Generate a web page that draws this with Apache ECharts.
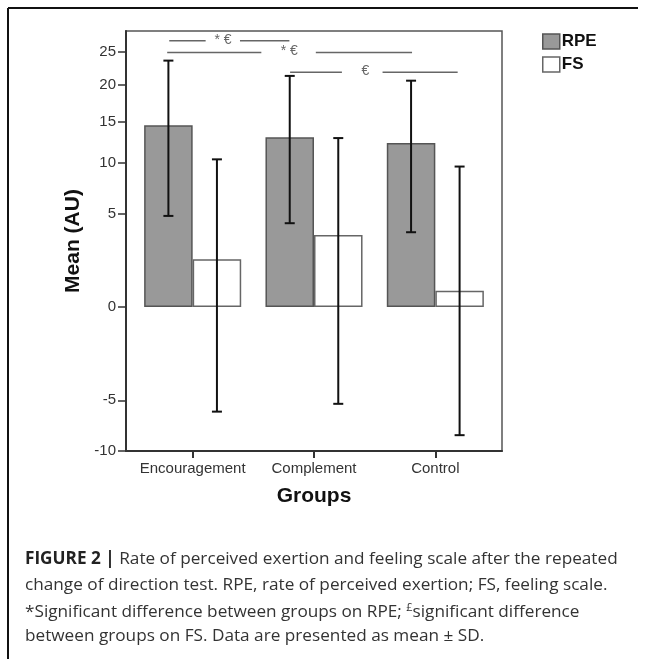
<!DOCTYPE html>
<html>
<head>
<meta charset="utf-8">
<script src="https://cdn.jsdelivr.net/npm/echarts@6/dist/echarts.min.js"></script>
<style>
html,body{margin:0;padding:0;background:#fff;}
#chart{width:657px;height:659px;}
</style>
</head>
<body>
<div id="chart"></div>
<script>
// ---- data (mean with lower / upper end of the error bar) ----
const groups = ['Encouragement', 'Complement', 'Control'];
const rpeMean = [14.5, 13.0, 12.3];
const rpeLow  = [4.8, 4.2, 3.5];
const rpeHigh = [23.6, 21.3, 20.6];
const fsMean  = [1.7, 3.3, 0.3];
const fsLow   = [-6.0, -5.3, -8.3];
const fsHigh  = [10.4, 12.9, 9.6];
const yTicks  = [-10, -5, 0, 5, 10, 15, 20, 25];
const yMin = -10, yMax = 28.3;
// significance brackets: [from (category units), to, value]
const sigLines = [[0.307, 0.607, 26.7], [0.890, 1.297, 26.7],
                  [0.290, 1.066, 24.84], [1.515, 2.308, 24.84],
                  [1.303, 1.730, 21.85], [2.065, 2.684, 21.85]];
const sigLabels = [['* €', 0.75, 26.7], ['* €', 1.296, 24.84], ['€', 1.923, 21.85]];
const captionLines = [
  '{b|FIGURE 2 |} Rate of perceived exertion and feeling scale after the repeated',
  'change of direction test. RPE, rate of perceived exertion; FS, feeling scale.',
  '*Significant difference between groups on RPE; {sup|£}significant difference',
  'between groups on FS. Data are presented as mean ± SD.'
];

// SPSS-style power scale for the value axis
const P = 0.625;
const T = v => Math.sign(v) * Math.pow(Math.abs(v), P);
const inv = t => Math.sign(t) * Math.pow(Math.abs(t), 1 / P);

const FONT = '"Liberation Sans", Arial, sans-serif';
const CAP_FONT = '"Open Sans", "Liberation Sans", sans-serif';
const chart = echarts.init(document.getElementById('chart'), null, {renderer: 'canvas'});

const gridLeft = 126, gridTop = 31, gridW = 376, gridH = 420;
const innerLeft = 132, innerW = 364;

const errData = [];
groups.forEach((g, i) => {
  errData.push([i, T(rpeLow[i]), T(rpeHigh[i]), -1]);
  errData.push([i, T(fsLow[i]), T(fsHigh[i]), 1]);
});

const option = {
  animation: false,
  backgroundColor: '#fff',
  textStyle: {fontFamily: FONT},
  grid: [
    {left: gridLeft, top: gridTop, width: gridW, height: gridH, show: true, borderColor: '#555', borderWidth: 1.5, backgroundColor: 'transparent'},
    {left: innerLeft, top: gridTop, width: innerW, height: gridH}
  ],
  legend: {
    left: 542, top: 33, orient: 'vertical', itemWidth: 17, itemHeight: 15, itemGap: 6,
    icon: 'rect', padding: 0,
    textStyle: {fontFamily: FONT, fontSize: 17, fontWeight: 'bold', color: '#111', padding: [0, 0, 0, -3]},
    data: [
      {name: 'RPE', itemStyle: {color: '#999', borderColor: '#555', borderWidth: 1.5}},
      {name: 'FS', itemStyle: {color: '#fff', borderColor: '#666', borderWidth: 1.5}}
    ]
  },
  xAxis: [
    {gridIndex: 0, type: 'value', min: 0, max: 1, axisLine: {show: true, onZero: false, lineStyle: {color: '#333', width: 2}},
     axisTick: {show: false}, axisLabel: {show: false}, splitLine: {show: false}},
    {gridIndex: 1, type: 'category', data: groups, boundaryGap: true,
     axisLine: {show: false, onZero: false}, axisTick: {show: true, alignWithLabel: true, length: 7, lineStyle: {color: '#333', width: 2}},
     axisLabel: {interval: 0, fontFamily: FONT, fontSize: 15, color: '#333', margin: 10},
     name: 'Groups', nameLocation: 'middle', nameGap: 35,
     nameTextStyle: {fontFamily: FONT, fontSize: 21, fontWeight: 'bold', color: '#111'}},
    {gridIndex: 1, type: 'value', min: 0, max: 3, show: false, axisLine: {onZero: false}}
  ],
  yAxis: [
    {gridIndex: 0, type: 'value', min: T(yMin), max: T(yMax),
     axisLine: {show: true, onZero: false, lineStyle: {color: '#333', width: 2}},
     axisTick: {show: true, length: 8, customValues: yTicks.map(T), lineStyle: {color: '#333', width: 1.5}},
     axisLabel: {customValues: yTicks.map(T), formatter: v => String(Math.round(inv(v))), fontFamily: FONT, fontSize: 15, color: '#333', margin: 10},
     splitLine: {show: false},
     name: 'Mean (AU)', nameLocation: 'middle', nameGap: 34, nameRotate: 90,
     nameTextStyle: {fontFamily: FONT, fontSize: 21, fontWeight: 'bold', color: '#111', padding: [0, 0, 8, 0]}},
    {gridIndex: 1, type: 'value', min: T(yMin), max: T(yMax), show: false, splitLine: {show: false}}
  ],
  series: [
    {name: 'RPE', type: 'bar', xAxisIndex: 1, yAxisIndex: 1, barGap: '0%', barCategoryGap: '20%',
     data: rpeMean.map(T), itemStyle: {color: '#999', borderColor: '#555', borderWidth: 1.5}},
    {name: 'FS', type: 'bar', xAxisIndex: 1, yAxisIndex: 1, barGap: '0%', barCategoryGap: '20%',
     data: fsMean.map(T), itemStyle: {color: '#fff', borderColor: '#666', borderWidth: 1.5}},
    {name: 'err', type: 'custom', xAxisIndex: 1, yAxisIndex: 1, z: 5, data: errData,
     renderItem: (params, api) => {
       const band = api.size([1, 0])[0];
       const off = api.value(3) * band * 0.2;
       const pLo = api.coord([api.value(0), api.value(1)]);
       const pHi = api.coord([api.value(0), api.value(2)]);
       const x = pLo[0] + off, hw = 5;
       const st = {stroke: '#111', lineWidth: 2};
       return {type: 'group', children: [
         {type: 'line', shape: {x1: x, y1: pLo[1], x2: x, y2: pHi[1]}, style: st},
         {type: 'line', shape: {x1: x - hw, y1: pHi[1], x2: x + hw, y2: pHi[1]}, style: st},
         {type: 'line', shape: {x1: x - hw, y1: pLo[1], x2: x + hw, y2: pLo[1]}, style: st}
       ]};
     }},
    {name: 'sig', type: 'custom', xAxisIndex: 2, yAxisIndex: 1, z: 5, silent: true,
     data: sigLines.map(s => [s[0], s[1], T(s[2])]),
     renderItem: (params, api) => {
       const a = api.coord([api.value(0), api.value(2)]);
       const b = api.coord([api.value(1), api.value(2)]);
       return {type: 'line', shape: {x1: a[0], y1: a[1], x2: b[0], y2: b[1]}, style: {stroke: '#666', lineWidth: 1.5}};
     }},
    {name: 'sigText', type: 'custom', xAxisIndex: 2, yAxisIndex: 1, z: 5, silent: true,
     data: sigLabels.map(s => [s[1], T(s[2])]),
     renderItem: (params, api) => {
       const p = api.coord([api.value(0), api.value(1)]);
       return {type: 'text', x: p[0], y: p[1] - 1, style: {text: sigLabels[params.dataIndex][0], fill: '#666', font: '14px ' + FONT, align: 'center', verticalAlign: 'middle'}};
     }}
  ],
  graphic: [
    {type: 'line', shape: {x1: 8, y1: 8, x2: 638, y2: 8}, style: {stroke: '#111', lineWidth: 2}},
    {type: 'line', shape: {x1: 8, y1: 8, x2: 8, y2: 659}, style: {stroke: '#111', lineWidth: 2}}
  ].concat(captionLines.map((t, i) => ({
    type: 'text', left: 25, top: 551 + i * 25.7,
    style: {text: t, fill: '#333', font: '17.2px ' + CAP_FONT,
      rich: {b: {fontWeight: 'bold', fontSize: 17.2, fill: '#222', fontFamily: CAP_FONT},
             sup: {fontSize: 11, fontFamily: CAP_FONT, fill: '#333', verticalAlign: 'top', lineHeight: 19}}}
  })))
};
chart.setOption(option);
</script>
</body>
</html>
